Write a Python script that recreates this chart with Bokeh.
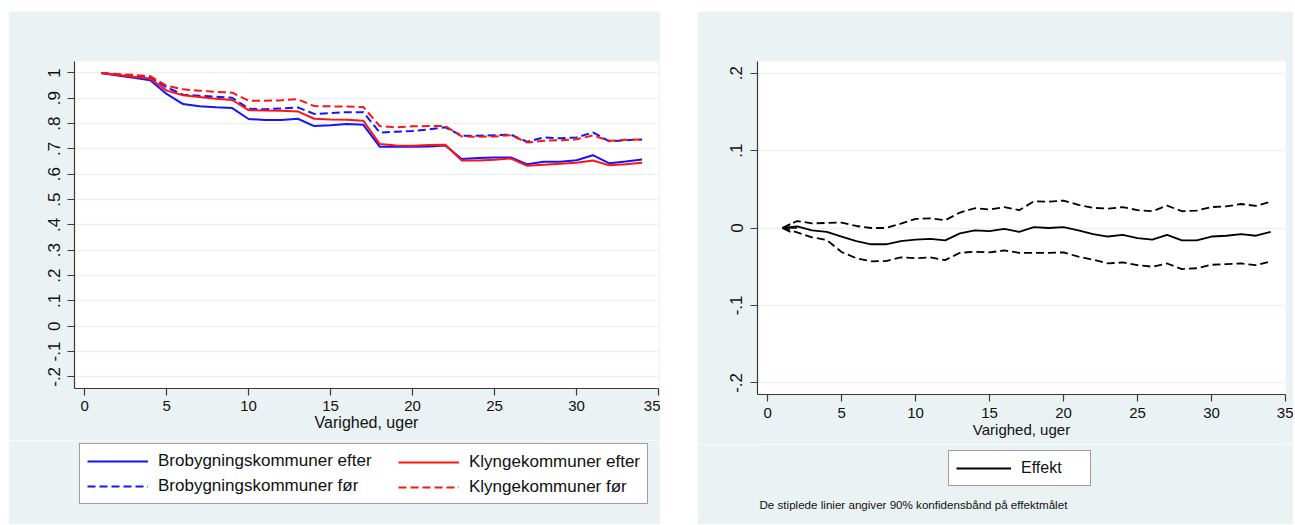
from bokeh.plotting import figure
from bokeh.models import (Legend, LegendItem, FixedTicker, Label, Arrow, OpenHead, Spacer)
from bokeh.layouts import row, column
from bokeh.embed import file_html
from bokeh.resources import INLINE

# ---------------- data ----------------
weeks = list(range(1, 35))

bro_efter = [1.000, 0.990, 0.981, 0.971, 0.917, 0.877, 0.868, 0.864, 0.861, 0.818,
             0.814, 0.814, 0.819, 0.790, 0.793, 0.798, 0.795, 0.708, 0.708, 0.708,
             0.709, 0.713, 0.660, 0.664, 0.666, 0.666, 0.639, 0.649, 0.649, 0.655,
             0.675, 0.643, 0.650, 0.658]
klynge_efter = [1.000, 0.993, 0.985, 0.978, 0.930, 0.912, 0.905, 0.898, 0.893, 0.853,
                0.852, 0.851, 0.848, 0.819, 0.816, 0.815, 0.811, 0.719, 0.713, 0.712,
                0.715, 0.716, 0.654, 0.654, 0.657, 0.662, 0.633, 0.637, 0.641, 0.645,
                0.654, 0.635, 0.639, 0.645]
bro_foer = [1.000, 0.994, 0.988, 0.982, 0.943, 0.914, 0.910, 0.906, 0.902, 0.859,
            0.856, 0.860, 0.864, 0.838, 0.841, 0.845, 0.845, 0.764, 0.768, 0.771,
            0.777, 0.785, 0.752, 0.752, 0.754, 0.756, 0.728, 0.745, 0.742, 0.745,
            0.765, 0.730, 0.734, 0.737]
klynge_foer = [1.000, 0.996, 0.992, 0.987, 0.949, 0.935, 0.930, 0.925, 0.922, 0.890,
               0.890, 0.892, 0.896, 0.869, 0.868, 0.867, 0.865, 0.790, 0.785, 0.789,
               0.790, 0.790, 0.749, 0.748, 0.749, 0.754, 0.725, 0.732, 0.734, 0.738,
               0.753, 0.732, 0.736, 0.737]

effekt = [0.000, 0.002, -0.003, -0.005, -0.011, -0.017, -0.021, -0.021, -0.017, -0.015,
          -0.014, -0.016, -0.007, -0.003, -0.004, -0.001, -0.005, 0.001, 0.000, 0.001,
          -0.003, -0.008, -0.011, -0.009, -0.013, -0.015, -0.009, -0.016, -0.016, -0.011,
          -0.010, -0.008, -0.010, -0.005]
effekt_upper = [0.000, 0.009, 0.006, 0.0065, 0.007, 0.0026, 0.000, 0.000, 0.0056, 0.0117,
                0.0125, 0.010, 0.020, 0.0255, 0.024, 0.027, 0.023, 0.0345, 0.034, 0.0354,
                0.030, 0.026, 0.025, 0.027, 0.023, 0.0216, 0.029, 0.0216, 0.0225, 0.027,
                0.028, 0.031, 0.0285, 0.034]
effekt_lower = [0.000, -0.0056, -0.012, -0.0155, -0.031, -0.039, -0.043, -0.0428, -0.038, -0.039,
                -0.038, -0.0415, -0.032, -0.0307, -0.0315, -0.029, -0.032, -0.032, -0.032, -0.0315,
                -0.037, -0.041, -0.0458, -0.0445, -0.048, -0.050, -0.0458, -0.053, -0.052, -0.0475,
                -0.0467, -0.0458, -0.048, -0.043]

x_ticks = [0, 5, 10, 15, 20, 25, 30, 35]
left_y_ticks = [-0.2, -0.1, 0.0, 0.1, 0.2, 0.3, 0.4, 0.5, 0.6, 0.7, 0.8, 0.9, 1.0]
left_y_labels = ["-.2", "-.1", "0", ".1", ".2", ".3", ".4", ".5", ".6", ".7", ".8", ".9", "1"]
right_y_ticks = [-0.2, -0.1, 0.0, 0.1, 0.2]
right_y_labels = ["-.2", "-.1", "0", ".1", ".2"]

x_title = "Varighed, uger"
legend_left = ["Brobygningskommuner efter", "Brobygningskommuner før",
               "Klyngekommuner efter", "Klyngekommuner før"]
legend_right = "Effekt"
note_text = "De stiplede linier angiver 90% konfidensbånd på effektmålet"

# ---------------- style ----------------
BG = "#EAF2F3"
GRID = "#EAF2F3"
AXIS = "#3a3a3a"
FONT = "Liberation Sans"
BLUE = "#1414FF"
RED = "#FF1414"
DASH = "8 4"


def style_axes(p, yticks, ylabels, tick_size, title_size, xlab_standoff, ylab_standoff):
    xt = FixedTicker(ticks=x_ticks)
    yt = FixedTicker(ticks=yticks)
    p.xaxis.ticker = xt
    p.yaxis.ticker = yt
    p.ygrid.ticker = yt
    p.xgrid.grid_line_color = None
    p.ygrid.grid_line_color = GRID
    p.ygrid.grid_line_width = 1.5
    p.yaxis.major_label_overrides = {t: l for t, l in zip(yticks, ylabels)}
    p.yaxis.major_label_orientation = "vertical"
    for ax in (p.xaxis, p.yaxis):
        ax.axis_line_color = AXIS
        ax.axis_line_width = 1.2
        ax.major_tick_line_color = AXIS
        ax.major_tick_line_width = 1.2
        ax.major_tick_out = 7
        ax.major_tick_in = 0
        ax.minor_tick_line_color = None
        ax.major_label_text_font = FONT
        ax.major_label_text_color = "#111111"
        ax.axis_label_text_font = FONT
        ax.axis_label_text_font_style = "normal"
        ax.axis_label_text_color = "#111111"
    p.xaxis.major_label_text_font_size = tick_size
    p.yaxis.major_label_text_font_size = "17px"
    p.xaxis.major_label_standoff = xlab_standoff
    p.yaxis.major_label_standoff = ylab_standoff
    p.xaxis.axis_label = x_title
    p.xaxis.axis_label_text_font_size = title_size
    p.xaxis.axis_label_standoff = 0


def legend_fig(width, height):
    # a strip below the plot that only carries the legend; its view is far away
    # from the data, so the data lines drawn here only serve as legend swatches
    f = figure(width=width, height=height, x_range=(-20, -19), y_range=(-20, -19),
               output_backend="svg", toolbar_location=None,
               x_axis_location=None, y_axis_location=None, min_border=0,
               background_fill_color=BG, border_fill_color=BG, outline_line_color=None)
    f.grid.visible = False
    return f


def leg_style(**kw):
    base = dict(margin=0, padding=7, spacing=5, glyph_height=20, label_height=20,
                label_standoff=10, label_text_font=FONT, label_text_color="#111111")
    base.update(kw)
    return base


# ---------------- left panel ----------------
p1 = figure(width=652, height=429, x_range=(-0.62, 35), y_range=(-0.246, 1.045),
            output_backend="svg", toolbar_location=None,
            min_border_left=66, min_border_right=2, min_border_top=50, min_border_bottom=52,
            background_fill_color="white", border_fill_color=BG, outline_line_color=None)
style_axes(p1, left_y_ticks, left_y_labels, "15px", "16px", 5, 7)

p1.line(weeks, bro_efter, line_color=BLUE, line_width=2)
p1.line(weeks, bro_foer, line_color=BLUE, line_width=2, line_dash=DASH)
p1.line(weeks, klynge_efter, line_color=RED, line_width=2)
p1.line(weeks, klynge_foer, line_color=RED, line_width=2, line_dash=DASH)

l1 = legend_fig(652, 84)
g_be = l1.line(weeks, bro_efter, line_color=BLUE, line_width=2)
g_bf = l1.line(weeks, bro_foer, line_color=BLUE, line_width=2, line_dash=DASH)
g_ke = l1.line(weeks, klynge_efter, line_color=RED, line_width=2)
g_kf = l1.line(weeks, klynge_foer, line_color=RED, line_width=2, line_dash=DASH)

# first column carries the frame of the whole legend box
leg1a = Legend(items=[LegendItem(label=legend_left[0], renderers=[g_be]),
                      LegendItem(label=legend_left[1], renderers=[g_bf])],
               location=(5, 20), glyph_width=61, label_width=482,
               border_line_color="#404040", border_line_width=1.5,
               background_fill_color="white", background_fill_alpha=1.0,
               **leg_style(label_text_font_size="17px"))
# second column: no frame (so no padding) -> offset by the padding of the first
leg1b = Legend(items=[LegendItem(label=legend_left[2], renderers=[g_ke]),
                      LegendItem(label=legend_left[3], renderers=[g_kf])],
               location=(324, 27), glyph_width=61,
               border_line_color=None, background_fill_alpha=0.0,
               **leg_style(label_text_font_size="17px"))
l1.add_layout(leg1a)
l1.add_layout(leg1b)

# ---------------- right panel ----------------
p2 = figure(width=596, height=433, x_range=(-0.68, 35), y_range=(-0.215, 0.215),
            output_backend="svg", toolbar_location=None,
            min_border_left=60, min_border_right=8, min_border_top=50, min_border_bottom=50,
            background_fill_color="white", border_fill_color=BG, outline_line_color=None)
style_axes(p2, right_y_ticks, right_y_labels, "15px", "15px", 6, 8)

p2.line(weeks, effekt, line_color="black", line_width=1.8)
p2.line(weeks, effekt_upper, line_color="black", line_width=1.8, line_dash=DASH)
p2.line(weeks, effekt_lower, line_color="black", line_width=1.8, line_dash=DASH)
p2.add_layout(Arrow(end=OpenHead(size=8, line_width=1.5, line_color="black"),
                    x_start=weeks[1], y_start=effekt[0], x_end=weeks[0], y_end=effekt[0],
                    line_width=1.5, line_color="black"))

l2 = legend_fig(596, 80)
g_eff = l2.line(weeks, effekt, line_color="black", line_width=1.8)
leg2 = Legend(items=[LegendItem(label=legend_right, renderers=[g_eff])],
              location=(191, 38), glyph_width=55, label_width=62,
              border_line_color="#404040", border_line_width=1.5,
              background_fill_color="white", background_fill_alpha=1.0,
              **leg_style(label_text_font_size="16px", spacing=0))
l2.add_layout(leg2)
l2.add_layout(Label(x=2, y=20, x_units="screen", y_units="screen", text=note_text,
                    text_font=FONT, text_font_size="11.6px", text_baseline="middle",
                    text_color="#111111"))

layout = column(Spacer(height=11),
                row(Spacer(width=8), column(p1, l1), Spacer(width=37), column(p2, l2)))

open("out.html", "w").write(file_html(layout, INLINE))
